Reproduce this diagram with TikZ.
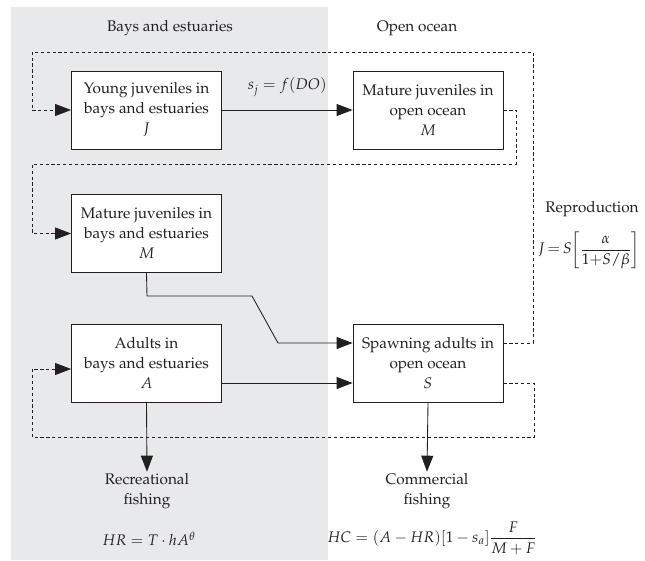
\documentclass[tikz,border=0pt]{standalone}
\usepackage{amsmath}
\usepackage[T1]{fontenc}
\usepackage{mathpazo}
\usetikzlibrary{arrows.meta,calc}
\definecolor{bggray}{RGB}{232,233,235}
\definecolor{ink}{RGB}{35,31,32}
\tikzset{
  stagebox/.style={draw=ink, line width=0.65pt, fill=white, minimum width=112.5pt,
    minimum height=58.5pt, inner sep=0pt, align=center, text=ink},
  flow/.style={draw=ink, line width=0.65pt, -{Triangle[length=12pt,width=9pt]}},
  dline/.style={draw=ink, line width=0.55pt, dash pattern=on 2.4pt off 2pt},
  darrow/.style={dline, -{Triangle[length=12pt,width=9pt]}},
  lbl/.style={text=ink, align=center, inner sep=1pt},
}
\begin{document}
\begin{tikzpicture}[x=0.75pt, y=-0.75pt, font=\fontsize{11.5}{15}\selectfont]
\useasboundingbox (0,0) rectangle (645,560);
\fill[bggray] (11,7) rectangle (328,560);

% region titles
\node[lbl] (tbays) at (170,28) {Bays and estuaries};
\node[lbl] (tocean) at (417,28) {Open ocean};

% boxes
\node[stagebox] (J)  at (146.5,110)   {Young juveniles in\\bays and estuaries\\$J$};
\node[stagebox] (M)  at (428,110)     {Mature juveniles in\\open ocean\\$M$};
\node[stagebox] (M2) at (146.5,233.5) {Mature juveniles in\\bays and estuaries\\$M$};
\node[stagebox] (A)  at (146.5,363)   {Adults in\\bays and estuaries\\$A$};
\node[stagebox] (S)  at (428,363)     {Spawning adults in\\open ocean\\$S$};

% outputs
\node[lbl] (rec) at (147,491) {Recreational\\fishing};
\node[lbl] (com) at (427,491) {Commercial\\fishing};
\node[lbl] (hr) at (149,539) {$HR = T\cdot hA^{\theta}$};
\node[lbl] (hc) at (432,538) {$HC = (A-HR)[1-s_a]\dfrac{F}{M+F}$};
\node[lbl, inner sep=0pt] (rep) at (592,209) {Reproduction};
\node[lbl, inner sep=0pt] (repf) at (589,250) {$J\,{=}\,S\bigg[\dfrac{\alpha}{1{+}S/\beta}\bigg]$};

% coordinates for routes
\coordinate (topR) at (533,52);
\coordinate (topL) at (32,52);
\coordinate (midR) at (516,164);
\coordinate (midL) at (32,164);
\coordinate (botR) at (534,437);
\coordinate (botL) at (32,437);
\coordinate (k1) at (147,296);
\coordinate (k2) at (252,296);
\coordinate (k3) at (278,343);

% solid connectors
\draw[flow] (J.east) -- node[lbl, above=9pt] (sj) {$s_j = f(DO)$} (M.west);
\draw[flow] (M2.south) -- (k1) -- (k2) -- (k3) -- ($(S.west)+(0,-20)$);
\draw[flow] ($(A.east)+(0,20)$) -- ($(S.west)+(0,20)$);
\draw[flow] (A.south) -- (rec.north);
\draw[flow] (S.south) -- (com.north);

% dashed feedback
\draw[darrow] ($(S.east)+(0,-20)$) -| (topR) -- (topL) |- (J.west);
\draw[darrow] (M.east) -| (midR) -- (midL) |- (M2.west);
\draw[darrow] ($(S.east)+(0,20)$) -| (botR) -- (botL) |- ($(A.west)+(0,6)$);
\end{tikzpicture}
\end{document}
